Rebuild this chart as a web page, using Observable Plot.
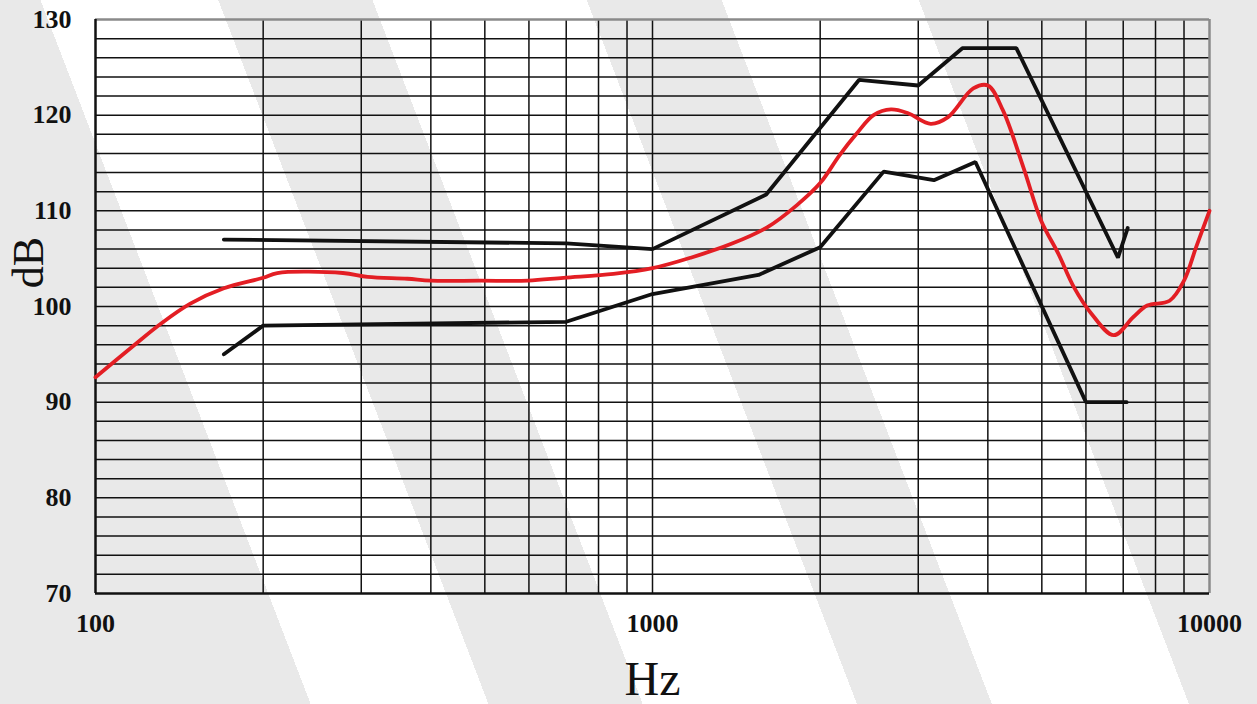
<!DOCTYPE html>
<html>
<head>
<meta charset="utf-8">
<script src="https://cdn.jsdelivr.net/npm/d3@7"></script>
<script src="https://cdn.jsdelivr.net/npm/@observablehq/plot@0.6"></script>
<style>
  html, body { margin: 0; padding: 0; }
  #chart {
    width: 1257px; height: 704px; position: relative;
    background: linear-gradient(69deg, #e9e9e9 0 290px, #ffffff 290px 456px, #e9e9e9 456px 600px, #ffffff 600px 800px, #e9e9e9 800px 926px, #ffffff 926px 1110px, #e9e9e9 1110px);
  }
</style>
</head>
<body>
<div id="chart"></div>
<script>
// Tick values
const xTicks = [100, 1000, 10000];
const yTicks = [70, 80, 90, 100, 110, 120, 130];

// Upper black curve
const freqUpper = [170, 700, 1000, 1600, 2350, 3000, 3600, 4500, 6850, 7130];
const dbUpper   = [107, 106.6, 106, 111.7, 123.7, 123.1, 127, 127, 105.1, 108.2];

// Lower black curve
const freqLower = [170, 200, 700, 1000, 1550, 2000, 2600, 3200, 3800, 6000, 7100];
const dbLower   = [95, 98, 98.4, 101.3, 103.3, 106.2, 114.1, 113.2, 115.1, 90, 90];

// Red (mean) curve
const freqRed = [100, 117, 131, 148, 170, 200, 212, 278, 308, 363, 400, 491, 598, 692, 851, 1000, 1171, 1393, 1609, 1817, 2000, 2166, 2328, 2494, 2680, 2877, 3159, 3393, 3766, 4000, 4258, 4636, 4984, 5355, 5712, 6128, 6732, 7300, 7729, 8480, 9000, 9462, 10000];
const dbRed   = [92.6, 95.9, 98.2, 100.3, 101.9, 103.0, 103.5, 103.5, 103.1, 102.9, 102.7, 102.7, 102.7, 103.0, 103.4, 104.0, 105.1, 106.6, 108.3, 110.6, 112.9, 115.8, 118.1, 120.0, 120.6, 120.2, 119.1, 119.8, 122.8, 123.1, 120.5, 114.5, 109.0, 105.5, 102.0, 99.3, 97.0, 98.9, 100.1, 100.6, 102.7, 106.2, 110.0];

const toRows = (xs, ys) => xs.map((f, i) => ({f, db: ys[i]}));
const upper = toRows(freqUpper, dbUpper);
const lower = toRows(freqLower, dbLower);
const red = toRows(freqRed, dbRed);

// grid positions (structural)
const xGrid = [...d3.range(200, 1000, 100), ...d3.range(1000, 10000, 1000)];
const yGrid = d3.range(72, 130, 2);

const serif = "Liberation Serif, Times New Roman, serif";

const chart = Plot.plot({
  width: 1257,
  height: 704,
  marginLeft: 95,
  marginRight: 48,
  marginTop: 19,
  marginBottom: 111,
  style: {background: "transparent", fontFamily: serif, color: "#111"},
  x: {type: "log", domain: [100, 10000]},
  y: {domain: [70, 130]},
  marks: [
    Plot.ruleY(yGrid, {stroke: "#111", strokeWidth: 1.5}),
    Plot.ruleX(xGrid, {stroke: "#111", strokeWidth: 1.5}),
    Plot.ruleY([130], {stroke: "#8a8a8a", strokeWidth: 2.5}),
    Plot.ruleX([10000], {stroke: "#8a8a8a", strokeWidth: 2.5}),
    Plot.ruleX([100], {stroke: "#111", strokeWidth: 2.5}),
    Plot.ruleY([70], {stroke: "#111", strokeWidth: 2.5}),
    Plot.line(upper, {x: "f", y: "db", stroke: "#111", strokeWidth: 3.8, strokeLinejoin: "miter"}),
    Plot.line(lower, {x: "f", y: "db", stroke: "#111", strokeWidth: 3.8, strokeLinejoin: "miter"}),
    Plot.line(red, {x: "f", y: "db", stroke: "#e31e24", strokeWidth: 3.8, curve: "catmull-rom"}),
    Plot.axisY(yTicks, {tickSize: 0, tickPadding: 24, fontSize: 26, fontWeight: "bold", fontFamily: serif, label: null}),
    Plot.axisX(xTicks, {tickSize: 0, tickPadding: 20, fontSize: 26, fontWeight: "bold", fontFamily: serif, label: null, tickFormat: d => String(d)}),
    Plot.text(["dB"], {frameAnchor: "left", textAnchor: "middle", dx: -67, dy: -44, rotate: -90, fontSize: 44, fontFamily: serif, fill: "#111"}),
    Plot.text(["Hz"], {frameAnchor: "bottom", textAnchor: "middle", dy: 101, fontSize: 48, fontFamily: serif, fill: "#111"})
  ]
});
document.getElementById("chart").appendChild(chart);
</script>
</body>
</html>
